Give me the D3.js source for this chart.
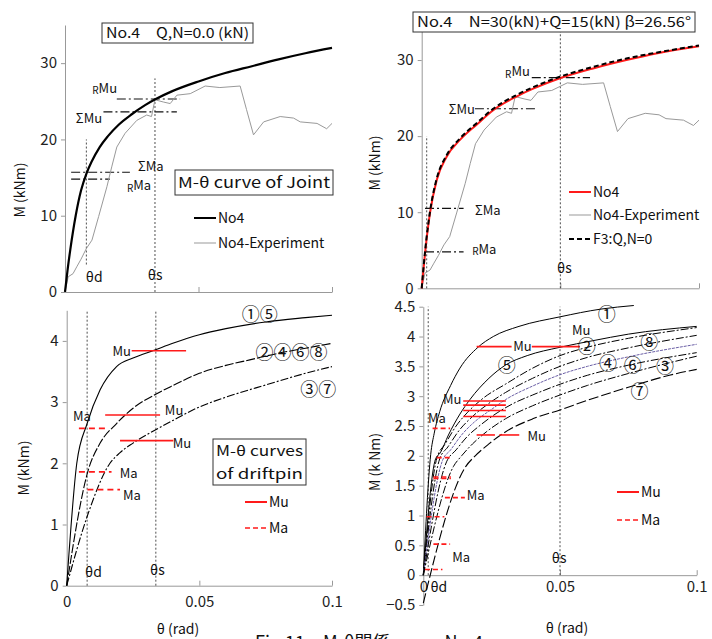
<!DOCTYPE html>
<html>
<head>
<meta charset="utf-8">
<title>M-theta No.4</title>
<script src="https://cdnjs.cloudflare.com/ajax/libs/d3/7.8.5/d3.min.js"></script>
<style>
  body { margin: 0; background: #fff; }
  svg text { font-family: "Noto Sans CJK JP", "Noto Sans", sans-serif; fill: #111; }
</style>
</head>
<body>
<svg id="chart" width="712" height="639"></svg>
<script>
// ---- data: theta (rad), M (kNm)
var jointNo4 = [[0,0],[0.001,3],[0.002,5.6],[0.004,10],[0.006,13.3],[0.008,15.5],[0.01,17.1],[0.013,19],[0.016,20.4],[0.02,21.9],[0.025,23.3],[0.03,24.5],[0.034,25.3],[0.04,26.3],[0.05,27.6],[0.06,28.7],[0.07,29.6],[0.08,30.5],[0.09,31.3],[0.1,32]];
var experiment = [[0,0],[0.0012,2],[0.003,2.4],[0.0044,3.3],[0.006,4.3],[0.008,5.7],[0.0101,6.8],[0.0126,9.9],[0.0157,13.8],[0.0175,16.4],[0.0194,19],[0.0225,20.8],[0.0269,22.5],[0.0306,23.2],[0.0324,23],[0.0337,25.2],[0.0369,24.9],[0.0394,24.7],[0.0419,25.8],[0.0469,26],[0.0525,27],[0.058,26.8],[0.0656,27],[0.068,23.9],[0.0706,20.6],[0.0744,22.3],[0.0806,23],[0.0856,22.8],[0.0881,22.3],[0.0944,22.1],[0.098,21.4],[0.1,22.1]];
var combNo4 = [[0,0],[0.0012,4.6],[0.003,9.9],[0.0054,14.2],[0.009,17.3],[0.0138,19.5],[0.0198,21.5],[0.0258,23.4],[0.0342,25.2],[0.04,26.2],[0.0498,27.6],[0.0618,28.9],[0.0738,30],[0.085,30.9],[0.1,31.8]];
var f3QN0 = [[0,0],[0.0012,4.8],[0.003,10.1],[0.0054,14.4],[0.009,17.5],[0.0138,19.7],[0.0198,21.7],[0.0258,23.6],[0.0342,25.4],[0.04,26.4],[0.0498,27.8],[0.0618,29.1],[0.0738,30.2],[0.085,31],[0.1,31.9]];

var pin15 = [[0,0],[0.0038,2.0],[0.0077,2.65],[0.0126,3.2],[0.0188,3.58],[0.025,3.72],[0.0332,3.85],[0.04,3.96],[0.05,4.1],[0.06,4.2],[0.075,4.31],[0.09,4.38],[0.1,4.42]];
var pin2468 = [[0,0],[0.0082,1.9],[0.0126,2.33],[0.0188,2.65],[0.025,2.9],[0.0332,3.12],[0.04,3.27],[0.05,3.47],[0.06,3.6],[0.069,3.69],[0.08,3.8],[0.09,3.88],[0.1,3.96]];
var pin37 = [[0,0],[0.0077,1.13],[0.0163,2.0],[0.02,2.17],[0.025,2.33],[0.0332,2.54],[0.04,2.7],[0.05,2.92],[0.06,3.08],[0.075,3.28],[0.09,3.47],[0.1,3.58]];

var pin1 = [[0,0],[0.0027,2.02],[0.004,2.38],[0.006,2.74],[0.01,3.18],[0.0134,3.47],[0.02,3.82],[0.0256,4.0],[0.035,4.17],[0.05,4.33],[0.065,4.46],[0.077,4.52]];
var pin5 = [[0,0],[0.0045,1.95],[0.0062,2.05],[0.0092,2.35],[0.0134,2.7],[0.017,2.94],[0.024,3.3],[0.03,3.52],[0.038,3.68],[0.05,3.82],[0.062,3.93],[0.075,4.04],[0.1,4.17]];
var pin2 = [[0,0],[0.005,1.97],[0.008,2.2],[0.012,2.5],[0.016,2.72],[0.022,2.97],[0.03,3.2],[0.04,3.47],[0.05,3.68],[0.06,3.82],[0.075,3.97],[0.1,4.15]];
var pin8 = [[0,0],[0.006,1.95],[0.009,2.15],[0.013,2.42],[0.018,2.66],[0.024,2.88],[0.03,3.06],[0.04,3.3],[0.05,3.5],[0.06,3.65],[0.075,3.81],[0.1,4.02]];
var pin4 = [[0,0],[0.007,1.92],[0.01,2.1],[0.014,2.35],[0.019,2.58],[0.025,2.78],[0.03,2.94],[0.04,3.17],[0.05,3.36],[0.06,3.5],[0.075,3.66],[0.1,3.87]];
var pin6 = [[0,0],[0.0085,1.9],[0.012,2.1],[0.016,2.32],[0.021,2.52],[0.027,2.72],[0.033,2.88],[0.04,3.02],[0.05,3.2],[0.06,3.35],[0.075,3.52],[0.1,3.73]];
var pin3 = [[0,0],[0.011,1.82],[0.014,2.0],[0.018,2.2],[0.023,2.4],[0.03,2.62],[0.04,2.84],[0.05,3.02],[0.06,3.18],[0.075,3.38],[0.09,3.56],[0.1,3.67]];
var pin7 = [[0,-0.47],[0.0155,1.82],[0.019,2.0],[0.024,2.2],[0.03,2.4],[0.04,2.62],[0.05,2.77],[0.06,2.93],[0.075,3.15],[0.09,3.35],[0.1,3.45]];

// reference moment levels: [prefix, name, M, theta from, theta to]
var jointRefs = [["R","Mu",25.3,0.0194,0.0431],["Σ","Mu",23.6,0.0144,0.0419],["Σ","Ma",15.7,0.0023,0.0243],["R","Ma",14.8,0.0023,0.0168]];
var combRefs = [["R","Mu",27.7,0.0397,0.0607],["Σ","Mu",23.6,0.0192,0.0409],["Σ","Ma",10.5,0.0012,0.0151],["R","Ma",4.8,0.0012,0.0151]];
var pinMuLeft = [[3.84,0.0245,0.045],[2.79,0.0145,0.0352],[2.37,0.0201,0.0402]];
var pinMaLeft = [[2.57,0.0046,0.0148],[1.86,0.0046,0.0169],[1.57,0.0078,0.0201]];
var pinMuRight = [[3.83,0.0195,0.0323],[3.83,0.0397,0.0573],[2.92,0.0146,0.0302],[2.85,0.0146,0.0302],[2.76,0.0146,0.0302],[2.66,0.0146,0.0302],[2.35,0.0195,0.0262],[2.35,0.0278,0.0351]];
var pinMaRight = [[2.46,0.0034,0.0098],[1.97,0.0049,0.0101],[1.645,0.0037,0.0101],[1.62,0.0037,0.0101],[1.30,0.0079,0.0152],[0.98,0.0012,0.0077],[0.52,0.0037,0.0098],[0.095,0.0006,0.007]];

var thetaTicks = [0, 0.05, 0.1];
var jointTicks = [0, 10, 20, 30];
var pinTicksLeft = [0, 1, 2, 3, 4];
var pinTicksRight = [-0.5, 0, 0.5, 1, 1.5, 2, 2.5, 3, 3.5, 4, 4.5];

var svg = d3.select("#chart");

function axes(sx, sy, yTicks, yFmt, showX, xAtY, xPad) {
  var gy = svg.append("g").attr("transform", "translate(" + sx(0) + ",0)")
    .call(d3.axisLeft(sy).tickValues(yTicks).tickSize(4).tickSizeOuter(0).tickPadding(4).tickFormat(yFmt));
  var gx = svg.append("g").attr("transform", "translate(0," + sy(xAtY) + ")")
    .call(d3.axisBottom(sx).tickValues(thetaTicks).tickSize(-5).tickSizeOuter(0).tickPadding(xPad)
      .tickFormat(showX ? function (d) { return String(d); } : function () { return ""; }));
  [gx, gy].forEach(function (g) {
    g.selectAll("path, line").attr("stroke", "#999");
    g.selectAll("text").attr("font-size", 15).style("fill", "#222");
  });
}
function curve(sx, sy, data, color, width, dash, smooth) {
  svg.append("path").datum(data)
    .attr("fill", "none").attr("stroke", color).attr("stroke-width", width)
    .attr("stroke-dasharray", dash || null)
    .attr("d", d3.line().x(function (d) { return sx(d[0]); }).y(function (d) { return sy(d[1]); })
      .curve(smooth ? d3.curveMonotoneX : d3.curveLinear));
}
function hline(sx, sy, m, a, b, color, width, dash) {
  svg.append("line").attr("x1", sx(a)).attr("x2", sx(b)).attr("y1", sy(m)).attr("y2", sy(m))
    .attr("stroke", color).attr("stroke-width", width).attr("stroke-dasharray", dash || null);
}
function vline(sx, sy, t, m0, m1) {
  svg.append("line").attr("x1", sx(t)).attr("x2", sx(t)).attr("y1", sy(m0)).attr("y2", sy(m1))
    .attr("stroke", "#222").attr("stroke-width", 0.8).attr("stroke-dasharray", "2,2");
}
function label(x, y, txt, size, anchor) {
  return svg.append("text").attr("x", x).attr("y", y).attr("dy", "0.35em")
    .attr("font-size", size || 13).attr("text-anchor", anchor || "start").text(txt);
}
function subLabel(x, y, pre, main, anchor) {
  var t = svg.append("text").attr("x", x).attr("y", y).attr("dy", "0.35em").attr("text-anchor", anchor || "start");
  if (pre === "R") t.append("tspan").attr("font-size", 10).attr("dy", "0.1em").text(pre);
  else t.append("tspan").attr("font-size", 13).text(pre);
  t.append("tspan").attr("font-size", 13).attr("dy", pre === "R" ? "-0.1em" : null).text(main);
}
function box(x, y, w, h, lines, size, padX) {
  svg.append("rect").attr("x", x).attr("y", y).attr("width", w).attr("height", h)
    .attr("fill", "#fff").attr("stroke", "#333").attr("stroke-width", 1);
  lines.forEach(function (s, i) {
    svg.append("text").attr("x", x + padX).attr("y", y + (i + 0.5) * h / lines.length).attr("dy", "0.36em")
      .attr("font-size", size).attr("textLength", w - 2 * padX).attr("lengthAdjust", "spacingAndGlyphs").text(s);
  });
}
function legendItem(x, y, color, width, dash, txt) {
  svg.append("line").attr("x1", x).attr("x2", x + 22).attr("y1", y).attr("y2", y)
    .attr("stroke", color).attr("stroke-width", width).attr("stroke-dasharray", dash || null);
  label(x + 24, y, txt, 14);
}
function yTitle(x, y, txt) {
  svg.append("text").attr("transform", "translate(" + x + "," + y + ") rotate(-90)")
    .attr("text-anchor", "middle").attr("dy", "0.35em").attr("font-size", 14).text(txt);
}

// ---------- top-left: joint, Q,N = 0
var x1 = d3.scaleLinear().domain([0, 0.1]).range([65, 332]);
var y1 = d3.scaleLinear().domain([0, 35]).range([292, 25]);
axes(x1, y1, jointTicks, function (d) { return d; }, false, 0, 6);
vline(x1, y1, 0.008, 3.6, 20);
vline(x1, y1, 0.0337, 0, 28);
jointRefs.forEach(function (r) { hline(x1, y1, r[2], r[3], r[4], "#111", 1.2, "9,3,2,3"); });
curve(x1, y1, experiment, "#999", 1, null, false);
curve(x1, y1, jointNo4, "#000", 2.2, null, true);
subLabel(x1(0.0195), y1(26.1), "R", "Mu", "end");
subLabel(x1(0.0139), y1(22.9), "Σ", "Mu", "end");
subLabel(x1(0.0273), y1(16.6), "Σ", "Ma");
subLabel(x1(0.0232), y1(13.3), "R", "Ma");
label(x1(0.0078), y1(2.0), "θd", 14);
label(x1(0.031), y1(2.2), "θs", 14);
box(102, 23, 151, 20, ["No.4　Q,N=0.0 (kN)"], 14, 4);
box(175, 170, 158, 25, ["M-θ curve of Joint"], 15, 3);
legendItem(194, 218, "#000", 2, null, "No4");
legendItem(194, 243, "#999", 1, null, "No4-Experiment");
yTitle(20, 190, "M (kNm)");

// ---------- top-right: joint, N=30 + Q=15
var x2 = d3.scaleLinear().domain([0, 0.1]).range([421.7, 699]);
var y2 = d3.scaleLinear().domain([0, 35]).range([288.3, 22]);
axes(x2, y2, jointTicks, function (d) { return d; }, false, 0, 6);
vline(x2, y2, 0.0018, 0, 20);
vline(x2, y2, 0.05, 0, 34);
combRefs.forEach(function (r) { hline(x2, y2, r[2], r[3], r[4], "#111", 1.2, "9,3,2,3"); });
curve(x2, y2, experiment, "#999", 1, null, false);
curve(x2, y2, combNo4, "#ff1a1a", 2, null, true);
curve(x2, y2, f3QN0, "#000", 2, "5,3", true);
subLabel(x2(0.039), y2(27.8), "R", "Mu", "end");
subLabel(x2(0.0192), y2(23.6), "Σ", "Mu", "end");
subLabel(x2(0.0192), y2(10.4), "Σ", "Ma");
subLabel(x2(0.0182), y2(4.5), "R", "Ma");
label(x2(0.0488), y2(2.65), "θs", 14);
box(413, 12, 282, 20, ["No.4　N=30(kN)+Q=15(kN) β=26.56°"], 14, 4);
legendItem(569, 192, "#ff1a1a", 2, null, "No4");
legendItem(569, 215, "#999", 1, null, "No4-Experiment");
legendItem(569, 239, "#000", 2, "5,3", "F3:Q,N=0");
yTitle(375, 163, "M (kNm)");

// ---------- bottom-left: driftpin groups
var x3 = d3.scaleLinear().domain([0, 0.1]).range([66.7, 332]);
var y3 = d3.scaleLinear().domain([0, 4.5]).range([585.7, 310.3]);
axes(x3, y3, pinTicksLeft, function (d) { return d; }, true, 0, 11);
vline(x3, y3, 0.0077, 0, 4.5);
vline(x3, y3, 0.0336, 0, 4.5);
curve(x3, y3, pin15, "#000", 1.1, null, true);
curve(x3, y3, pin2468, "#000", 1.1, "9,2", true);
curve(x3, y3, pin37, "#000", 1.1, "8,2,2,2", true);
pinMuLeft.forEach(function (r) { hline(x3, y3, r[0], r[1], r[2], "#ff1a1a", 1.6, null); });
pinMaLeft.forEach(function (r) { hline(x3, y3, r[0], r[1], r[2], "#ff1a1a", 1.6, "6,4"); });
label(x3(0.066), y3(4.42), "①⑤", 18);
label(x3(0.0712), y3(3.8), "②④⑥⑧", 18);
label(x3(0.088), y3(3.2), "③⑦", 18);
label(x3(0.0242), y3(3.82), "Mu", 13, "end");
label(x3(0.037), y3(2.87), "Mu", 13);
label(x3(0.04), y3(2.32), "Mu", 13);
label(x3(0.0024), y3(2.76), "Ma", 13);
label(x3(0.02), y3(1.84), "Ma", 13);
label(x3(0.0212), y3(1.48), "Ma", 13);
label(x3(0.0069), y3(0.22), "θd", 14);
label(x3(0.0314), y3(0.25), "θs", 14);
box(213, 439, 93, 46, ["M-θ curves", "of driftpin"], 14, 3);
legendItem(245, 502, "#ff1a1a", 2, null, "Mu");
legendItem(245, 528, "#ff1a1a", 1.6, "5,3", "Ma");
yTitle(24, 468, "M (kNm)");
label(178, 629, "θ (rad)", 14, "middle");

// ---------- bottom-right: individual driftpins
var x4 = d3.scaleLinear().domain([0, 0.1]).range([423.3, 696.7]);
var y4 = d3.scaleLinear().domain([-0.5, 4.5]).range([605, 306.7]);
axes(x4, y4, pinTicksRight, function (d) { return d < 0 ? "−0.5" : String(d); }, true, 0, 6);
vline(x4, y4, 0.0018, 0, 4.5);
vline(x4, y4, 0.05, 0, 4.5);
curve(x4, y4, pin1, "#000", 1, null, true);
curve(x4, y4, pin5, "#000", 1, null, true);
curve(x4, y4, pin2, "#000", 1, "8,2,2,2", true);
curve(x4, y4, pin8, "#000", 1, "8,2,2,2", true);
curve(x4, y4, pin4, "#6b5fa6", 1, "3,1", true);
curve(x4, y4, pin6, "#000", 1, "8,2,2,2", true);
curve(x4, y4, pin3, "#000", 1, "8,2,2,2", true);
curve(x4, y4, pin7, "#000", 1.1, "10,3", true);
pinMuRight.forEach(function (r) { hline(x4, y4, r[0], r[1], r[2], "#ff1a1a", 1.6, null); });
pinMaRight.forEach(function (r) { hline(x4, y4, r[0], r[1], r[2], "#ff1a1a", 1.6, "5,3"); });
[["①",0.0671,4.36],["②",0.0598,3.83],["⑧",0.0826,3.9],["⑤",0.0305,3.51],["④",0.0676,3.54],["⑥",0.0766,3.51],["③",0.0884,3.49],["⑦",0.0791,3.08]]
  .forEach(function (c) { label(x4(c[1]), y4(c[2]), c[0], 18, "middle"); });
label(x4(0.0329), y4(3.84), "Mu", 13);
label(x4(0.0544), y4(4.1), "Mu", 13);
label(x4(0.0072), y4(2.94), "Mu", 13);
label(x4(0.0381), y4(2.32), "Mu", 13);
label(x4(0.0017), y4(2.63), "Ma", 13);
label(x4(0.0159), y4(1.33), "Ma", 13);
label(x4(0.0106), y4(0.29), "Ma", 13);
label(x4(0.047), y4(0.29), "θs", 14);
label(x4(0.0026), y4(0) + 12, "θd", 14);
legendItem(617, 492, "#ff1a1a", 2, null, "Mu");
legendItem(617, 520, "#ff1a1a", 1.6, "5,3", "Ma");
yTitle(375, 462, "M (k Nm)");
label(567, 628, "θ (rad)", 14, "middle");

// caption (cut off at the bottom edge)
svg.append("text").attr("x", 255).attr("y", 649).attr("font-size", 18).text("Fig.11　M-θ関係　－　No.4");
</script>
</body>
</html>
